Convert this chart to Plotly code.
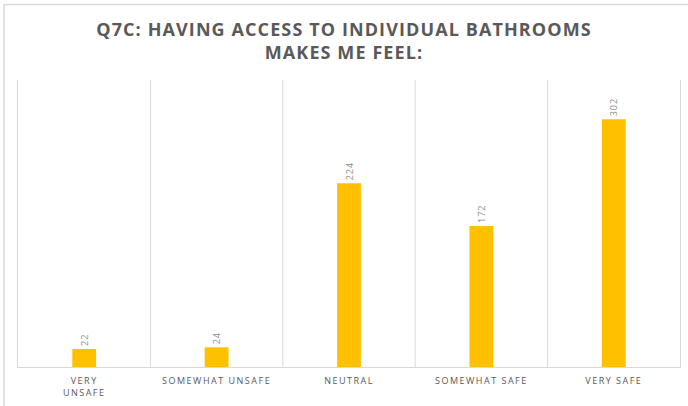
import plotly.graph_objects as go

categories = ["VERY<br>UNSAFE", "SOMEWHAT UNSAFE", "NEUTRAL", "SOMEWHAT SAFE", "VERY SAFE"]
values = [22, 24, 224, 172, 302]
title_lines = ["Q7C: HAVING ACCESS TO INDIVIDUAL BATHROOMS", "MAKES ME FEEL:"]

W, H = 688, 406
ml, mr, mt, mb = 18, 7, 80, 37
pw, ph = W - ml - mr, H - mt - mb


def spaced(s, px):
    return "<br>".join(f'<span style="letter-spacing:{px}px">{part}</span>' for part in s.split("<br>"))


fig = go.Figure(go.Bar(
    x=list(range(len(categories))), y=values,
    marker=dict(color="#FFC000", line=dict(width=0)),
    width=0.18,
    text=[spaced(str(v), 1) for v in values],
    textposition="outside",
    textangle=-90,
    textfont=dict(family="Open Sans", size=9, color="#8c8c8c"),
    cliponaxis=False,
))

fig.update_layout(
    width=W, height=H,
    margin=dict(l=ml, r=mr, t=mt, b=mb),
    paper_bgcolor="white", plot_bgcolor="white",
    showlegend=False,
    title=dict(text=spaced("<br>".join(title_lines), 1.1), x=0.5, xanchor="center", xref="container",
               y=1 - 36 / H, yanchor="middle", yref="container",
               font=dict(family="Open Sans", size=18, color="#595959", weight="bold")),
    xaxis=dict(range=[-0.5, len(categories) - 0.5],
               tickvals=list(range(len(categories))),
               ticktext=[spaced(c, 1.5) for c in categories],
               showgrid=False, ticks="", showline=True, linecolor="#d9d9d9", linewidth=1,
               zeroline=False, ticklabelstandoff=5,
               tickfont=dict(family="Open Sans", size=9, color="#595959")),
    yaxis=dict(range=[0, 350], showgrid=False, showticklabels=False, ticks="",
               showline=True, mirror=True, linecolor="#d9d9d9", linewidth=1, zeroline=False),
    shapes=[dict(type="line", xref="x", yref="paper", x0=i + 0.5, x1=i + 0.5, y0=0, y1=1,
                 line=dict(color="#d9d9d9", width=1), layer="below")
            for i in range(len(categories) - 1)] +
           [dict(type="rect", xref="paper", yref="paper",
                 x0=(4 - ml) / pw, x1=1.2, y0=-0.5, y1=(H - mb - 4) / ph,
                 line=dict(color="#d9d9d9", width=1.5), fillcolor="rgba(0,0,0,0)", layer="below")],
)

fig.write_html("out.html", config={"displayModeBar": False},
               post_script="document.body.style.margin='0';")
